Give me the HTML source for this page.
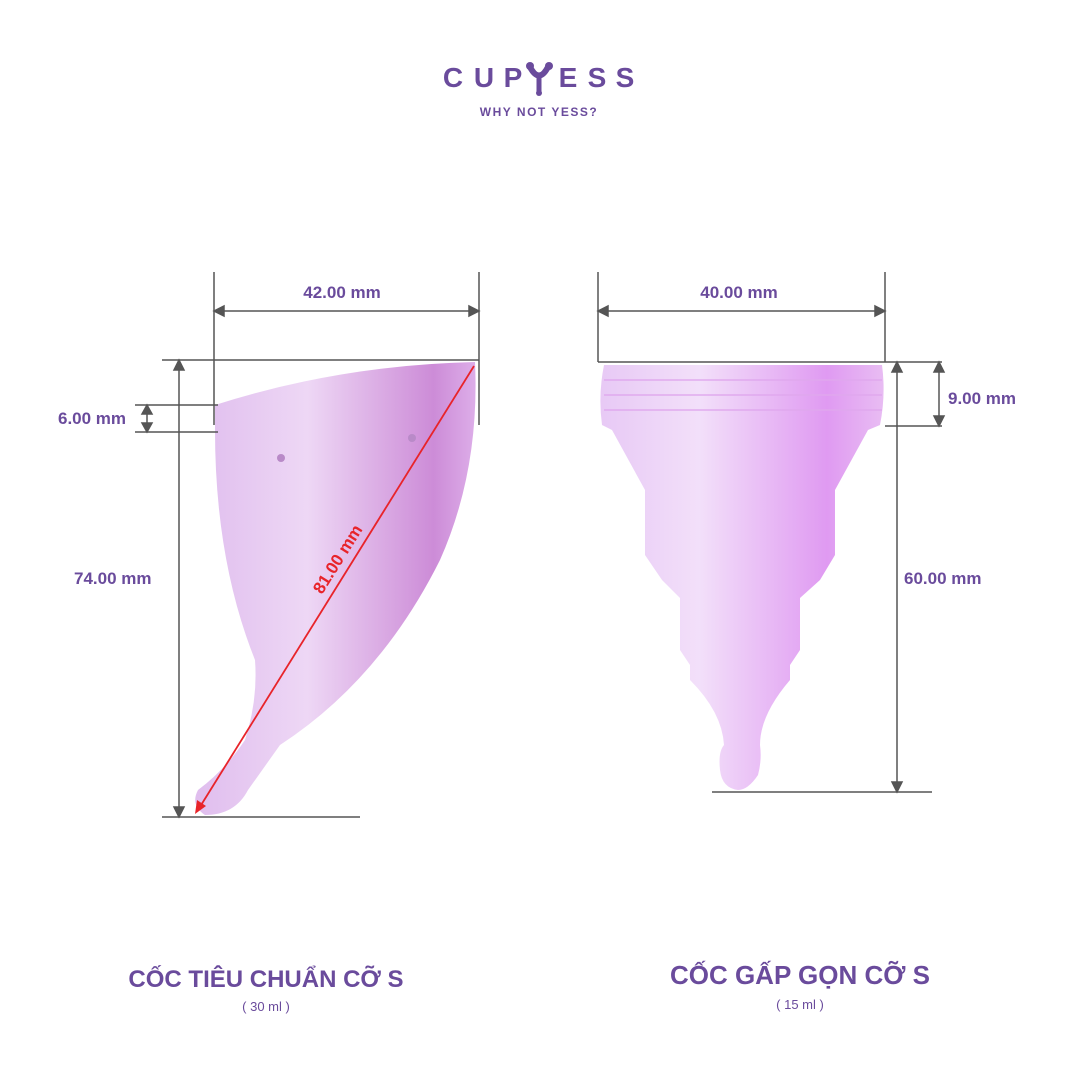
<!DOCTYPE html>
<html><head><meta charset="utf-8"><style>
body{margin:0;background:#fff;}
svg{display:block}
text{font-family:"Liberation Sans","Noto Sans CJK SC",sans-serif;fill:#6a4b9c}
</style></head><body>
<svg width="1080" height="1080" viewBox="0 0 1080 1080">
<defs>
<linearGradient id="g1" x1="0" y1="0" x2="1" y2="0">
<stop offset="0" stop-color="#dcb6ec"/><stop offset="0.4" stop-color="#ecd3f4"/><stop offset="0.85" stop-color="#c77fd3"/><stop offset="1" stop-color="#d9a4e6"/></linearGradient>
<linearGradient id="g2" x1="0" y1="0" x2="1" y2="0">
<stop offset="0" stop-color="#e5c3f4"/><stop offset="0.35" stop-color="#f1dcf9"/><stop offset="0.8" stop-color="#dc8ff0"/><stop offset="1" stop-color="#e6b5f2"/></linearGradient>
</defs>
<g font-size="28" font-weight="bold" text-anchor="middle">
<text x="453" y="87">C</text><text x="484" y="87">U</text><text x="513" y="87">P</text>
<text x="568" y="87">E</text><text x="597" y="87">S</text><text x="625" y="87">S</text>
</g>
<path d="M530 67 Q539 84 548 67" stroke="#6a4b9c" stroke-width="6" fill="none"/><circle cx="530" cy="66" r="4" fill="#6a4b9c"/><circle cx="549" cy="66" r="4" fill="#6a4b9c"/><line x1="539" y1="78" x2="539" y2="92" stroke="#6a4b9c" stroke-width="5"/><circle cx="539" cy="93" r="3" fill="#6a4b9c"/>
<text x="539" y="116" font-size="12" font-weight="bold" text-anchor="middle" letter-spacing="1.5">WHY NOT YESS?</text>

<!-- left cup -->
<path d="M215 405 Q340 365 475 362 Q480 470 440 560 Q380 680 280 745 L248 790 Q235 815 205 815 Q190 805 198 790 Q225 770 245 740 Q258 700 255 660 Q215 560 215 430 Z" fill="url(#g1)" opacity="0.9"/>
<circle cx="281" cy="458" r="4" fill="#b98ac8"/><circle cx="412" cy="438" r="4" fill="#b98ac8"/>
<g stroke="#555" stroke-width="1.5" fill="#555">
<line x1="214" y1="272" x2="214" y2="425"/><line x1="479" y1="272" x2="479" y2="425"/>
<line x1="214" y1="311" x2="479" y2="311"/>
<path d="M214 311 l10 -5 v10z M479 311 l-10 -5 v10z"/>
<line x1="162" y1="360" x2="479" y2="360"/><line x1="162" y1="817" x2="360" y2="817"/>
<line x1="179" y1="360" x2="179" y2="817"/>
<path d="M179 360 l-5 10 h10z M179 817 l-5 -10 h10z"/>
<line x1="135" y1="405" x2="218" y2="405"/><line x1="135" y1="432" x2="218" y2="432"/>
<line x1="147" y1="405" x2="147" y2="432"/>
<path d="M147 405 l-5 9 h10z M147 432 l-5 -9 h10z"/>
</g>
<line x1="474" y1="366" x2="198" y2="810" stroke="#e8242a" stroke-width="1.8"/>
<path d="M195 814 l2 -14 l9 6z" fill="#e8242a"/>
<text x="342" y="298" font-size="17" font-weight="bold" text-anchor="middle">42.00 mm</text>
<text x="58" y="424" font-size="17" font-weight="bold">6.00 mm</text>
<text x="74" y="584" font-size="17" font-weight="bold">74.00 mm</text>
<text x="0" y="0" font-size="17" font-weight="bold" style="fill:#e8242a" transform="translate(322,595) rotate(-58)">81.00 mm</text>

<!-- right cup -->
<path d="M604 365 H882 Q886 395 880 425 L868 430 L835 490 V555 L820 580 L800 598 V650 L790 665 V680 Q760 715 760 745 Q762 760 758 775 Q748 790 738 790 Q722 788 720 770 Q718 752 724 745 Q722 712 690 680 V665 L680 650 V598 L662 580 L645 555 V490 L612 430 L602 425 Q598 395 604 365 Z" fill="url(#g2)" opacity="0.9"/>
<g stroke="#e0a8ee" stroke-width="2" opacity="0.7"><line x1="604" y1="380" x2="882" y2="380"/><line x1="604" y1="395" x2="882" y2="395"/><line x1="604" y1="410" x2="882" y2="410"/></g>
<g stroke="#555" stroke-width="1.5" fill="#555">
<line x1="598" y1="272" x2="598" y2="362"/><line x1="885" y1="272" x2="885" y2="362"/>
<line x1="598" y1="311" x2="885" y2="311"/>
<path d="M598 311 l10 -5 v10z M885 311 l-10 -5 v10z"/>
<line x1="598" y1="362" x2="942" y2="362"/><line x1="885" y1="426" x2="942" y2="426"/>
<line x1="939" y1="362" x2="939" y2="426"/>
<path d="M939 362 l-5 10 h10z M939 426 l-5 -10 h10z"/>
<line x1="897" y1="362" x2="897" y2="792"/>
<path d="M897 362 l-5 10 h10z M897 792 l-5 -10 h10z"/>
<line x1="712" y1="792" x2="932" y2="792"/>
</g>
<text x="739" y="298" font-size="17" font-weight="bold" text-anchor="middle">40.00 mm</text>
<text x="948" y="404" font-size="17" font-weight="bold">9.00 mm</text>
<text x="904" y="584" font-size="17" font-weight="bold">60.00 mm</text>

<text x="266" y="987" font-size="24" font-weight="bold" text-anchor="middle">CỐC TIÊU CHUẨN CỠ S</text>
<text x="266" y="1011" font-size="13" text-anchor="middle">( 30 ml )</text>
<text x="800" y="984" font-size="26" font-weight="bold" text-anchor="middle">CỐC GẤP GỌN CỠ S</text>
<text x="800" y="1009" font-size="13" text-anchor="middle">( 15 ml )</text>
</svg>
</body></html>
